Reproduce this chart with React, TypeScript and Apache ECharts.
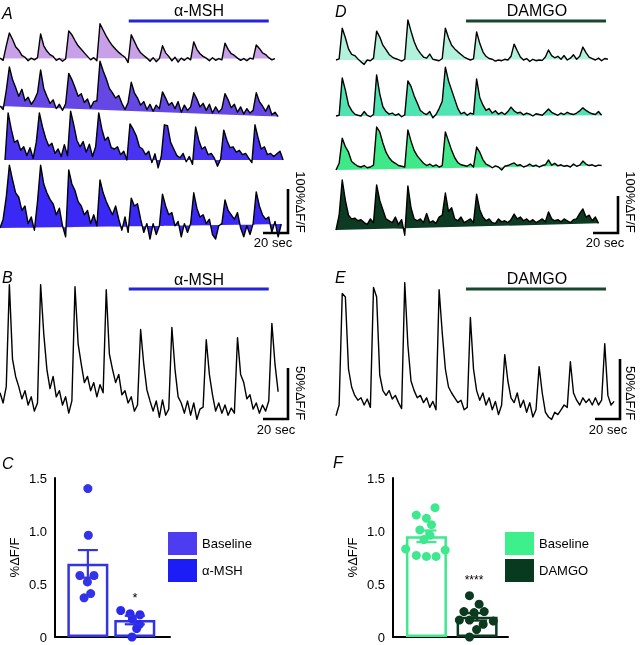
import React, { useEffect, useRef } from 'react';
import * as echarts from 'echarts';

// ---------- DATA ----------
const DT = 2.5; // seconds per sample

// Panel A (%ΔF/F), alpha-MSH experiment, 4 cells
const traceA1 = [2,-3,30,59,45,28,20,8,4,-4,2,-2,3,57,30,18,10,6,-3,1,-5,0,64,55,42,30,22,14,6,-2,3,-4,80,66,52,40,30,22,15,9,4,-8,55,40,25,14,8,2,-5,3,-6,1,30,14,6,-4,4,-7,2,-3,3,-2,39,22,12,6,2,-4,3,-3,1,-2,36,22,12,8,2,-3,1,-4,2,0,32,24,14,10,3,-2,1];
const traceA2 = [0,-8,35,89,60,42,22,38,12,20,4,14,30,82,40,22,6,14,-6,4,-10,5,74,60,42,22,28,8,16,-4,10,12,102,80,62,40,30,18,24,6,-8,8,54,30,18,2,10,-8,4,-12,2,-6,32,18,2,8,-6,10,-14,2,-10,-2,30,16,-2,6,-10,4,-16,-2,-14,-6,28,14,-4,4,-14,-2,-18,-6,-16,-10,30,10,0,-12,2,-20,-14,-24];
const traceA3 = [0,107,70,40,45,22,30,10,28,4,40,107,75,50,32,38,15,25,8,35,10,111,80,45,30,42,18,36,8,30,107,70,45,52,28,25,30,12,20,0,82,70,55,30,25,12,20,-6,14,-18,8,80,78,40,25,10,5,15,-4,8,-10,75,45,25,30,12,15,4,-14,2,68,45,28,30,18,22,12,15,4,-6,80,50,25,30,12,15,8,14,20,0];
const traceA4 = [0,20,70,143,110,80,70,40,50,10,25,-5,60,143,100,80,65,55,30,45,5,-20,132,100,85,60,50,30,40,10,30,5,109,80,60,45,30,50,20,-5,25,-10,68,50,55,20,-10,10,-25,10,-15,5,77,50,30,35,5,15,-20,10,-10,10,80,45,25,30,10,20,-15,-25,5,10,64,40,30,20,35,0,-20,5,-15,10,82,50,30,20,25,-10,15,-20,9];

// Panel D (%ΔF/F), DAMGO experiment, 4 cells
const traceD1 = [0,3,86,60,30,15,12,3,-5,-12,0,-2,5,78,62,40,28,15,8,4,1,-3,2,108,78,50,30,18,8,5,16,2,0,-2,4,86,60,40,30,22,15,8,4,0,3,76,45,22,10,4,2,-3,0,-2,2,0,10,43,25,8,0,4,-4,2,-2,0,-1,8,27,12,6,10,2,12,0,5,14,2,10,35,20,8,4,0,5,-2,4,2];
const traceD2 = [0,2,103,70,30,15,5,2,0,12,2,-2,4,111,60,25,12,5,8,2,6,-2,3,95,80,55,35,15,8,4,12,-5,4,20,40,132,95,70,45,20,6,10,2,8,5,100,50,30,15,20,8,14,5,10,4,12,24,14,8,10,3,8,5,0,6,4,2,10,19,10,6,2,8,4,10,6,4,8,14,22,15,10,6,4,12,2];
const traceD3 = [-8,10,78,55,40,15,8,2,0,4,-2,0,5,108,95,65,40,25,15,10,4,2,0,100,70,45,30,20,10,4,8,2,6,0,4,95,70,45,25,12,6,4,2,8,0,54,40,20,8,4,-2,3,0,-8,2,4,8,11,4,6,0,3,8,2,5,0,4,6,19,5,10,3,6,2,4,0,8,2,5,16,8,4,6,2,5,4];
const traceD4 = [0,40,135,80,40,30,32,25,28,20,15,30,20,122,80,55,30,25,20,35,15,28,-14,119,60,30,25,30,20,45,20,25,18,35,40,100,50,60,30,25,35,20,25,30,20,97,55,35,25,30,20,18,30,22,25,20,28,43,30,35,25,30,22,28,20,25,30,22,49,30,25,28,22,30,25,20,28,30,45,57,35,40,25,35,18];

// Panel B / E (%ΔF/F), single cells
const traceB = [12,2,18,118,45,28,18,6,14,0,8,-6,2,118,70,35,16,28,8,14,0,8,-8,4,116,60,40,22,28,14,22,8,20,12,113,50,35,22,30,10,14,2,8,-6,0,74,40,15,4,-6,4,-12,5,-10,-4,76,35,8,2,-8,4,-10,2,-14,-4,-2,64,30,10,-6,2,-8,0,-10,-3,-8,66,30,22,6,10,-4,2,-8,0,-6,4,80,40,13];
const traceE = [-9,0,93,90,30,15,8,4,6,0,5,-2,98,90,25,12,8,12,5,8,2,-3,102,50,20,12,6,8,2,6,-2,3,-4,96,60,30,15,10,6,2,4,-4,-2,73,30,12,4,10,0,6,-4,3,-8,0,42,20,6,2,10,-2,4,-6,2,-10,-4,32,10,-6,-10,-12,-6,-8,-4,0,-2,36,10,4,0,6,2,5,0,6,0,4,51,8,0,3];

// Drug application windows (s)
const drugA = [103, 215];
const drugD = [104, 216];

// Scale bars: 20 s horizontal, 100% or 50% ΔF/F vertical
const scaleTime = 20;
const scaleAmpAD = 100;
const scaleAmpBE = 50;

// Panel C (α-MSH) and F (DAMGO) summary
const groupsC = ['Baseline', 'α-MSH'];
const meansC = [0.69, 0.16];
const semC = [0.13, 0.04];
const dotsC1 = [[1.0, 1.40], [1.01, 0.96], [0.83, 0.58], [1.13, 0.58], [0.99, 0.52], [0.92, 0.37], [1.06, 0.41]];
const dotsC2 = [[1.70, 0.25], [1.90, 0.22], [2.11, 0.21], [1.95, 0.17], [2.10, 0.12], [1.94, 0.0], [2.04, 0.08]];

const groupsF = ['Baseline', 'DAMGO'];
const meansF = [0.95, 0.19];
const semF = [0.055, 0.035];
const dotsF1 = [[0.80, 1.15], [1.17, 1.22], [1.0, 1.12], [1.10, 1.06], [0.87, 1.01], [1.07, 0.96], [0.59, 0.83], [1.37, 0.82], [0.80, 0.77], [1.0, 0.76], [1.19, 0.76], [0.95, 0.92]];
const dotsF2 = [[1.85, 0.39], [2.04, 0.31], [1.74, 0.24], [1.94, 0.23], [2.14, 0.24], [1.65, 0.16], [1.85, 0.16], [2.32, 0.15], [2.12, 0.12], [1.99, 0.07], [1.85, 0.0]];

// ---------- STYLE / LAYOUT ----------
const FONT = "'Liberation Sans', Arial, Helvetica, sans-serif";
const PX_PER_S = 1.25;
const T_MAX = 240;

type TraceLayout = { left: number; y0: number; s: number; min: number; max: number };

const App = () => {
  const ref = useRef<HTMLDivElement>(null);
  useEffect(() => {
    if (!ref.current) return;
    const chart = echarts.init(ref.current, null, { renderer: 'svg' });

    const traces: { data: number[]; lay: TraceLayout; fill: string | null }[] = [
      { data: traceA1, lay: { left: 0, y0: 59, s: 0.44, min: -60, max: 130 }, fill: '#c8a0e8' },
      { data: traceA2, lay: { left: 0, y0: 106, s: 0.44, min: -60, max: 130 }, fill: '#6548e4' },
      { data: traceA3, lay: { left: 5, y0: 160, s: 0.44, min: -60, max: 130 }, fill: '#4a33f0' },
      { data: traceA4, lay: { left: 0, y0: 228, s: 0.44, min: -60, max: 130 }, fill: '#3a28f4' },
      { data: traceD1, lay: { left: 336, y0: 60, s: 0.37, min: -60, max: 160 }, fill: '#b2f1dc' },
      { data: traceD2, lay: { left: 336, y0: 116, s: 0.37, min: -60, max: 160 }, fill: '#4fe2b2' },
      { data: traceD3, lay: { left: 336, y0: 167, s: 0.37, min: -60, max: 160 }, fill: '#3fe98a' },
      { data: traceD4, lay: { left: 336, y0: 230, s: 0.37, min: -60, max: 160 }, fill: '#0c3a22' },
      { data: traceB, lay: { left: 0, y0: 405, s: 1.02, min: -30, max: 130 }, fill: null },
      { data: traceE, lay: { left: 336, y0: 405, s: 1.2, min: -30, max: 110 }, fill: null },
    ];

    const grid: any[] = [];
    const xAxis: any[] = [];
    const yAxis: any[] = [];
    const series: any[] = [];

    traces.forEach((tr, idx) => {
      const { left, y0, s, min, max } = tr.lay;
      grid.push({ left, top: y0 - max * s, width: T_MAX * PX_PER_S, height: (max - min) * s });
      xAxis.push({ type: 'value', gridIndex: idx, min: 0, max: T_MAX, show: false });
      yAxis.push({ type: 'value', gridIndex: idx, min, max, show: false });
      const pts = tr.data.map((v, i) => [i * DT, v]);
      if (tr.fill) {
        const color = tr.fill;
        series.push({
          type: 'custom', xAxisIndex: idx, yAxisIndex: idx, silent: true, z: 1,
          data: pts,
          renderItem: (params: any, api: any) => {
            if (params.dataIndex !== 0) return null;
            const points = tr.data.map((v, i) => api.coord([i * DT, v]));
            return { type: 'polygon', shape: { points }, style: { fill: color } };
          },
        });
      }
      series.push({
        type: 'line', xAxisIndex: idx, yAxisIndex: idx, data: pts, symbol: 'none', silent: true,
        clip: false, z: 3, lineStyle: { color: '#000', width: 1.4, join: 'round' },
      });
    });

    const lineSeries = (idx: number, data: number[][], color: string, width: number) => ({
      type: 'line', xAxisIndex: idx, yAxisIndex: idx, data, symbol: 'none', silent: true, clip: false, z: 4,
      lineStyle: { color, width, join: 'miter', cap: 'butt' },
    });

    // drug bars
    series.push(lineSeries(0, [[drugA[0], 86.4], [drugA[1], 86.4]], '#2424dc', 3));
    series.push(lineSeries(4, [[drugD[0], 105.4], [drugD[1], 105.4]], '#16482e', 3));
    series.push(lineSeries(8, [[drugA[0], 113.7], [drugA[1], 113.7]], '#2424dc', 3));
    series.push(lineSeries(9, [[drugD[0], 96.7], [drugD[1], 96.7]], '#16482e', 3));

    // scale bars
    const sb = (idx: number, t0: number, v0: number, amp: number) =>
      lineSeries(idx, [[t0, v0], [t0 + scaleTime, v0], [t0 + scaleTime, v0 + amp]], '#000', 2.6);
    series.push(sb(3, 210.4, -11.4, scaleAmpAD));
    series.push(sb(7, 205.6, -8.1, scaleAmpAD));
    series.push(sb(8, 210.4, -13.7, scaleAmpBE));
    series.push(sb(9, 207.2, -11.7, scaleAmpBE));

    // ---- bar charts C & F ----
    const barPanel = (
      gIdx: number, left: number, xmin: number, xmax: number,
      groups: string[], means: number[], sem: number[], dots: number[][][],
      barColors: string[], dotColors: string[],
    ) => {
      grid.push({ left, top: 478, width: 115, height: 159 });
      xAxis.push({
        type: 'value', gridIndex: gIdx, min: xmin, max: xmax,
        axisLine: { show: true, onZero: false, lineStyle: { color: '#000', width: 2 } },
        axisTick: { show: false }, axisLabel: { show: false }, splitLine: { show: false },
      });
      yAxis.push({
        type: 'value', gridIndex: gIdx, min: 0, max: 1.5, interval: 0.5,
        name: '%ΔF/F', nameLocation: 'middle', nameGap: 34,
        nameTextStyle: { fontSize: 13, color: '#000', fontFamily: FONT },
        axisLine: { show: true, onZero: false, lineStyle: { color: '#000', width: 2 } },
        axisTick: { show: false },
        axisLabel: { fontSize: 13, color: '#000', margin: 8, fontFamily: FONT, formatter: (v: number) => (v === 0 ? '0' : v.toFixed(1)) },
        splitLine: { show: false },
      });
      groups.forEach((g, i) => {
        series.push({
          type: 'bar', name: g, xAxisIndex: gIdx, yAxisIndex: gIdx, barWidth: 41, barGap: '-100%',
          data: [[i + 1, means[i]]], z: 2, silent: true,
          itemStyle: { color: '#fff', borderColor: barColors[i], borderWidth: 2.5 },
        });
        series.push({
          type: 'scatter', xAxisIndex: gIdx, yAxisIndex: gIdx, data: dots[i], symbolSize: 9, z: 5, silent: true,
          itemStyle: { color: dotColors[i], opacity: 1 },
        });
      });
      series.push({
        type: 'custom', xAxisIndex: gIdx, yAxisIndex: gIdx, z: 6, silent: true,
        data: means.map((m, i) => [i + 1, m - sem[i], m + sem[i]]),
        encode: { x: 0, y: [1, 2] },
        renderItem: (params: any, api: any) => {
          const x = api.value(0);
          const lo = api.coord([x, api.value(1)]);
          const hi = api.coord([x, api.value(2)]);
          const w = 10;
          const st = { stroke: barColors[params.dataIndex], lineWidth: 2.2 };
          return {
            type: 'group', children: [
              { type: 'line', shape: { x1: lo[0], y1: lo[1], x2: hi[0], y2: hi[1] }, style: st },
              { type: 'line', shape: { x1: hi[0] - w, y1: hi[1], x2: hi[0] + w, y2: hi[1] }, style: st },
              { type: 'line', shape: { x1: lo[0] - w, y1: lo[1], x2: lo[0] + w, y2: lo[1] }, style: st },
            ],
          };
        },
      });
    };

    barPanel(10, 55, 0.3, 2.75, groupsC, meansC, semC, [dotsC1, dotsC2], ['#3434e2', '#3030e6'], ['#3333e8', '#2a2aee']);
    barPanel(11, 393, 0.34, 2.61, groupsF, meansF, semF, [dotsF1, dotsF2], ['#3ee88e', '#0b3a20'], ['#3ee88e', '#0b3a20']);

    const legendBase = {
      orient: 'vertical', itemWidth: 29, itemHeight: 23, itemGap: 4, icon: 'rect', selectedMode: false,
      padding: 0, textStyle: { fontSize: 13, color: '#000', fontFamily: FONT }, top: 532,
    };

    const txt = (x: number, y: number, text: string, extra: any = {}, rotation = 0) => ({
      type: 'text', x, y, rotation, silent: true,
      style: { text, fontFamily: FONT, fontSize: 13, fill: '#000', align: 'center', verticalAlign: 'middle', ...extra },
    });
    const letter = { fontSize: 16, fontStyle: 'italic', align: 'left' };

    const graphic = [
      txt(2, 13, 'A', letter), txt(2, 277, 'B', letter), txt(2, 463, 'C', letter),
      txt(335, 11, 'D', letter), txt(335, 277, 'E', letter), txt(333, 462, 'F', letter),
      txt(199, 10, 'α-MSH', { fontSize: 16 }), txt(537, 10, 'DAMGO', { fontSize: 16 }),
      txt(199, 279, 'α-MSH', { fontSize: 16 }), txt(537, 278, 'DAMGO', { fontSize: 16 }),
      txt(273, 242, '20 sec'), txt(605, 242, '20 sec'), txt(276, 429, '20 sec'), txt(608, 429, '20 sec'),
      txt(300, 202, '100%ΔF/F', {}, -Math.PI / 2), txt(630, 202, '100%ΔF/F', {}, -Math.PI / 2),
      txt(300, 393, '50%ΔF/F', {}, -Math.PI / 2), txt(630, 393, '50%ΔF/F', {}, -Math.PI / 2),
      txt(135, 597, '*', { fontSize: 13 }), txt(474, 580, '****', { fontSize: 12 }),
    ];

    chart.setOption({
      animation: false,
      textStyle: { fontFamily: FONT },
      grid, xAxis, yAxis, series, graphic,
      legend: [
        { ...legendBase, left: 168, data: [
          { name: 'Baseline', itemStyle: { color: '#4e3cf0', borderWidth: 0 } },
          { name: 'α-MSH', itemStyle: { color: '#1c1cf6', borderWidth: 0 } },
        ] },
        { ...legendBase, left: 505, data: [
          { name: 'Baseline', itemStyle: { color: '#3ef08c', borderWidth: 0 } },
          { name: 'DAMGO', itemStyle: { color: '#073a1f', borderWidth: 0 } },
        ] },
      ],
    });
    return () => chart.dispose();
  }, []);
  return <div ref={ref} style={{ position: 'fixed', left: 0, top: 0, width: 640, height: 645 }} />;
};

export default App;
